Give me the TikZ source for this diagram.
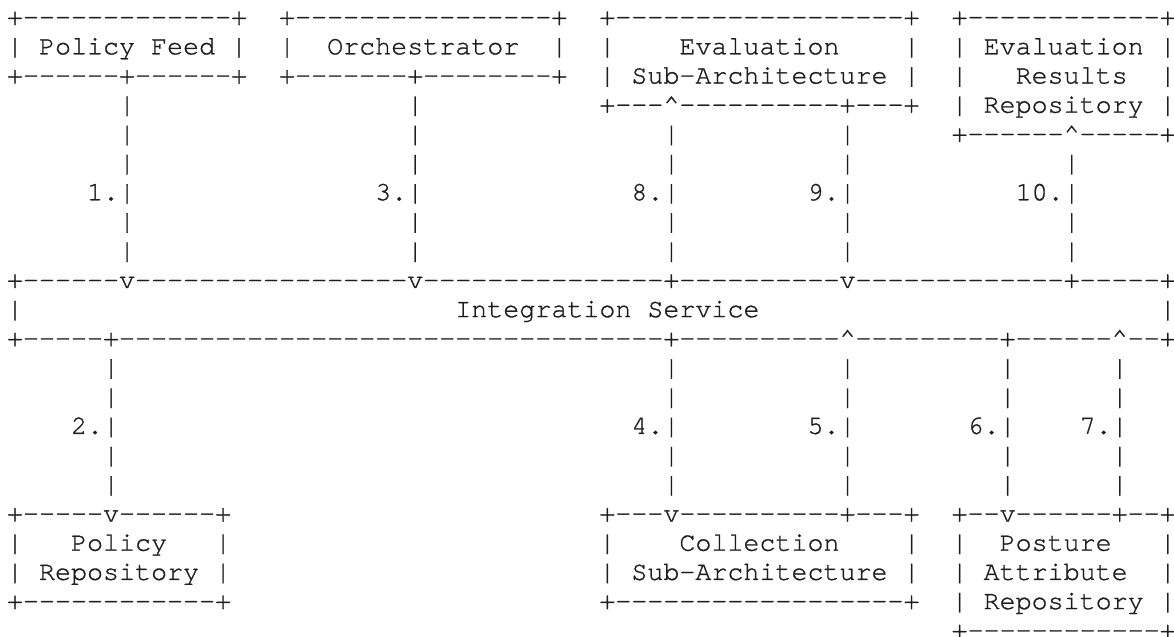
\documentclass[tikz,border=0pt]{standalone}
\usepackage{fontspec}
\setmonofont{TeX Gyre Cursor}[FakeBold=1]
% a run of n dashes
\ExplSyntaxOn
\NewExpandableDocumentCommand\dashrun{m}{\prg_replicate:nn{#1}{-}}
\ExplSyntaxOff
\newcommand\upmark{\textasciicircum}
\definecolor{ink}{HTML}{1E1E1E}
\tikzset{
  txt/.style={anchor=base west, inner sep=0pt, outer sep=0pt, text=ink,
    font=\ttfamily\fontsize{13.342pt}{14.6pt}\selectfont},
}
% place text on the character grid: name, row, column, text
\newcommand\cell[4]{\node[txt] (#1) at (#3,#2) {#4};}

\begin{document}
\begin{tikzpicture}
\useasboundingbox (0,0) rectangle (587pt,-318.5pt);
\begin{scope}[shift={(3.5pt,-12.55pt)}, x=8.005pt, y=-14.6pt]
% top row of boxes
\cell{pf-t}{0}{0}{+\dashrun{13}+}
\cell{or-t}{0}{17}{+\dashrun{16}+}
\cell{ev-t}{0}{37}{+\dashrun{18}+}
\cell{er-t}{0}{59}{+\dashrun{12}+}
\cell{pf}{1}{0}{| Policy Feed |}
\cell{or-l}{1}{17}{|}
\cell{or}{1}{20}{Orchestrator}
\cell{or-r}{1}{34}{|}
\cell{ev-l1}{1}{37}{|}
\cell{ev1}{1}{42}{Evaluation}
\cell{ev-r1}{1}{56}{|}
\cell{er1}{1}{59}{| Evaluation |}
\cell{pf-b}{2}{0}{+\dashrun{6}+\dashrun{6}+}
\cell{or-b}{2}{17}{+\dashrun{7}+\dashrun{8}+}
\cell{ev2}{2}{37}{| Sub-Architecture |}
\cell{er-l2}{2}{59}{|}
\cell{er2}{2}{63}{Results}
\cell{er-r2}{2}{72}{|}
\cell{l1-3}{3}{7}{|}
\cell{l3-3}{3}{25}{|}
\cell{ev-b}{3}{37}{+\dashrun{3}\upmark\dashrun{10}+\dashrun{3}+}
\cell{er3}{3}{59}{| Repository |}
\cell{l1-4}{4}{7}{|}
\cell{l3-4}{4}{25}{|}
\cell{l8-4}{4}{41}{|}
\cell{l9-4}{4}{52}{|}
\cell{er-b}{4}{59}{+\dashrun{6}\upmark\dashrun{5}+}
% upper links
\foreach \r in {5,7,8}
  \foreach \c in {7,25,41,52,66}
    \node[txt] (u-\r-\c) at (\c,\r) {|};
\cell{lab1}{6}{5}{1.|}
\cell{lab3}{6}{23}{3.|}
\cell{lab8}{6}{39}{8.|}
\cell{lab9}{6}{50}{9.|}
\cell{lab10}{6}{63}{10.|}
% integration service
\cell{is-t}{9}{0}{+\dashrun{6}v\dashrun{17}v\dashrun{15}+\dashrun{10}v\dashrun{13}+\dashrun{5}+}
\cell{is-l}{10}{0}{|}
\cell{is}{10}{28}{Integration Service}
\cell{is-r}{10}{72}{|}
\cell{is-b}{11}{0}{+\dashrun{5}+\dashrun{34}+\dashrun{10}\upmark\dashrun{9}+\dashrun{6}\upmark\dashrun{2}+}
% lower links
\foreach \r in {12,13,15,16}
  \foreach \c in {6,41,52,62,69}
    \node[txt] (d-\r-\c) at (\c,\r) {|};
\cell{lab2}{14}{4}{2.|}
\cell{lab4}{14}{39}{4.|}
\cell{lab5}{14}{50}{5.|}
\cell{lab6}{14}{60}{6.|}
\cell{lab7}{14}{67}{7.|}
% bottom row of boxes
\cell{pr-t}{17}{0}{+\dashrun{5}v\dashrun{6}+}
\cell{co-t}{17}{37}{+\dashrun{3}v\dashrun{10}+\dashrun{3}+}
\cell{pa-t}{17}{59}{+\dashrun{2}v\dashrun{6}+\dashrun{2}+}
\cell{pr-l1}{18}{0}{|}
\cell{pr1}{18}{4}{Policy}
\cell{pr-r1}{18}{13}{|}
\cell{co-l1}{18}{37}{|}
\cell{co1}{18}{42}{Collection}
\cell{co-r1}{18}{56}{|}
\cell{pa-l1}{18}{59}{|}
\cell{pa1}{18}{62}{Posture}
\cell{pa-r1}{18}{72}{|}
\cell{pr2}{19}{0}{| Repository |}
\cell{co2}{19}{37}{| Sub-Architecture |}
\cell{pa2}{19}{59}{| Attribute}
\cell{pa-r2}{19}{72}{|}
\cell{pr-b}{20}{0}{+\dashrun{12}+}
\cell{co-b}{20}{37}{+\dashrun{18}+}
\cell{pa3}{20}{59}{| Repository |}
\cell{pa-b}{21}{59}{+\dashrun{12}+}
\end{scope}
\end{tikzpicture}
\end{document}
